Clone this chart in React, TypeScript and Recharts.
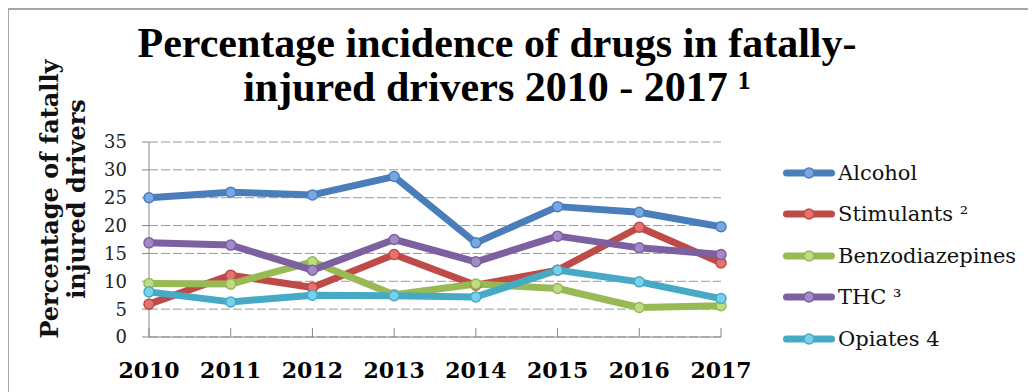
import { CartesianGrid, Line, LineChart, XAxis, YAxis } from "recharts";

const years = ["2010", "2011", "2012", "2013", "2014", "2015", "2016", "2017"];
const alcohol = [25, 26, 25.5, 28.8, 16.9, 23.4, 22.4, 19.8];
const stimulants = [5.9, 11.1, 8.9, 14.8, 9.3, 12.0, 19.7, 13.3];
const benzodiazepines = [9.6, 9.5, 13.5, 7.6, 9.5, 8.7, 5.3, 5.6];
const thc = [16.9, 16.5, 12.0, 17.5, 13.5, 18.1, 16.0, 14.8];
const opiates = [8.1, 6.3, 7.5, 7.4, 7.2, 12.0, 9.9, 6.9];
const yTicks = [0, 5, 10, 15, 20, 25, 30, 35];

const series = [
  { key: "alcohol", name: "Alcohol", color: "#4a7ebb", dot: "#7aa6e2" },
  { key: "stimulants", name: "Stimulants \u00b2", color: "#be4b48", dot: "#e6716e" },
  { key: "benzodiazepines", name: "Benzodiazepines", color: "#98b954", dot: "#bedc82" },
  { key: "thc", name: "THC \u00b3", color: "#7d60a0", dot: "#a489c8" },
  { key: "opiates", name: "Opiates 4", color: "#46aac5", dot: "#78d0ea" },
];

const data = years.map((year, i) => ({
  year,
  alcohol: alcohol[i],
  stimulants: stimulants[i],
  benzodiazepines: benzodiazepines[i],
  thc: thc[i],
  opiates: opiates[i],
}));

const serif = "'DejaVu Serif', serif";

export default function App() {
  return (
    <div
      style={{
        position: "relative",
        width: 1028,
        height: 384,
        boxSizing: "border-box",
        borderTop: "2px solid #a6a6a6",
        borderLeft: "1px solid #a6a6a6",
        overflow: "hidden",
        background: "#fff",
      }}
    >
      <div
        style={{
          position: "absolute",
          left: 38,
          top: 10.8,
          width: 900,
          textAlign: "center",
          fontFamily: "'Liberation Serif', serif",
          fontWeight: "bold",
          fontSize: 42,
          lineHeight: "44px",
          color: "#000",
        }}
      >
        Percentage incidence of drugs in fatally-
        <br />
        injured drivers 2010 - 2017 {"\u00b9"}
      </div>
      <div
        style={{
          position: "absolute",
          left: -106.3,
          top: 162,
          width: 320,
          height: 54,
          transform: "rotate(-90deg)",
          textAlign: "center",
          fontFamily: serif,
          fontWeight: "bold",
          fontSize: 24,
          lineHeight: "27px",
          color: "#111",
          whiteSpace: "nowrap",
        }}
      >
        Percentage of fatally
        <br />
        injured drivers
      </div>
      <div style={{ position: "absolute", left: 0, top: 0 }}>
        <LineChart
          width={1027}
          height={382}
          data={data}
          margin={{ top: 132, right: 315, bottom: 15, left: 80 }}
        >
          <CartesianGrid vertical={false} stroke="#999" strokeDasharray="9 3" />
          <XAxis
            dataKey="year"
            height={40}
            stroke="#888"
            tickSize={-9}
            tickMargin={34}
            tick={{ fontFamily: serif, fontWeight: "bold", fontSize: 22, fill: "#000" }}
          />
          <YAxis
            width={60}
            domain={[0, 35]}
            ticks={yTicks}
            stroke="#888"
            tickSize={7}
            tickMargin={15}
            tick={{ fontFamily: serif, fontSize: 18, fill: "#222" }}
          />
          {series.map((s) => (
            <Line
              key={s.key}
              dataKey={s.key}
              name={s.name}
              type="linear"
              stroke={s.color}
              strokeWidth={7}
              strokeLinejoin="round"
              dot={{ r: 5, fill: s.dot, stroke: s.color, strokeWidth: 1.5 }}
              isAnimationActive={false}
            />
          ))}
        </LineChart>
      </div>
      <div style={{ position: "absolute", left: 774, top: 142 }}>
        {series.map((s) => (
          <div key={s.key} style={{ height: 41.5, display: "flex", alignItems: "center" }}>
            <svg width={55} height={14} style={{ display: "block" }}>
              <line x1={3.5} y1={7} x2={48.5} y2={7} stroke={s.color} strokeWidth={7} strokeLinecap="round" />
              <circle cx={26} cy={7} r={5} fill={s.dot} stroke={s.color} strokeWidth={1.5} />
            </svg>
            <span style={{ fontFamily: serif, fontSize: 21, color: "#111", whiteSpace: "nowrap" }}>{s.name}</span>
          </div>
        ))}
      </div>
    </div>
  );
}
